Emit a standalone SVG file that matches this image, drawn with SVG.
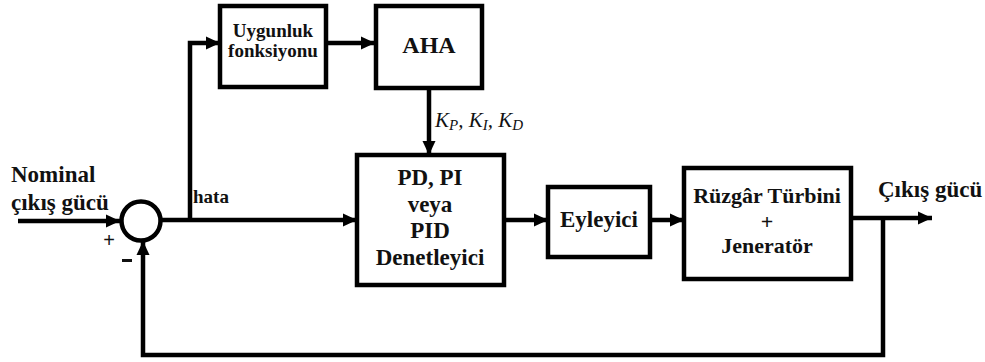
<svg xmlns="http://www.w3.org/2000/svg" width="985" height="362" viewBox="0 0 985 362">
<style>
.box{fill:#fff;stroke:#000;stroke-width:4.5}
.ln{fill:none;stroke:#000;stroke-width:4.5}
.t{font-family:'Liberation Serif','Times New Roman',Times,'DejaVu Serif',serif;font-weight:bold;fill:#111;text-anchor:middle}
.s{text-anchor:start}
.k{font-family:'Liberation Serif','Times New Roman',Times,'DejaVu Serif',serif;font-style:italic;fill:#111}
</style>
<defs>
<marker id="ah" markerUnits="userSpaceOnUse" markerWidth="16" markerHeight="16" viewBox="0 0 16 16" refX="14" refY="8" orient="auto">
<path d="M0,1.5 L14,8 L0,14.5 Z" fill="#000"/>
</marker>
</defs>
<g id="connectors">
<line class="ln" x1="18" y1="221" x2="120" y2="221" marker-end="url(#ah)"/>
<line class="ln" x1="160" y1="220" x2="357" y2="220" marker-end="url(#ah)"/>
<polyline class="ln" points="190,220 190,43 220,43" marker-end="url(#ah)"/>
<line class="ln" x1="326" y1="43" x2="375" y2="43" marker-end="url(#ah)"/>
<line class="ln" x1="429" y1="88" x2="429" y2="155" marker-end="url(#ah)"/>
<line class="ln" x1="504" y1="220" x2="548" y2="220" marker-end="url(#ah)"/>
<line class="ln" x1="650" y1="220" x2="684" y2="220" marker-end="url(#ah)"/>
<line class="ln" x1="851" y1="218" x2="932" y2="218" marker-end="url(#ah)"/>
<polyline class="ln" points="883,218 883,355 143,355 143,241" marker-end="url(#ah)"/>
</g>
<g id="sum">
<circle cx="141" cy="221" r="19.5" fill="#fff" stroke="#000" stroke-width="4.5"/>
<text x="109" y="247" font-family="Liberation Sans, Arial, sans-serif" font-size="20" fill="#111" text-anchor="middle">+</text>
<rect x="122" y="259" width="10" height="3" fill="#111"/>
</g>
<g id="uygunluk">
<rect class="box" x="220" y="6" width="106" height="81"/>
<text class="t" x="273" y="37" font-size="19">Uygunluk</text>
<text class="t" x="273" y="57" font-size="19">fonksiyonu</text>
</g>
<g id="aha">
<rect class="box" x="376" y="6" width="106" height="82"/>
<text class="t" x="429" y="53" font-size="24">AHA</text>
</g>
<g id="pid">
<rect class="box" x="357" y="155" width="147" height="130"/>
<text class="t" x="430" y="185" font-size="23">PD, PI</text>
<text class="t" x="430" y="212" font-size="23">veya</text>
<text class="t" x="430" y="238" font-size="23">PID</text>
<text class="t" x="430" y="265" font-size="23">Denetleyici</text>
</g>
<g id="eyleyici">
<rect class="box" x="548" y="187" width="102" height="70"/>
<text class="t" x="599" y="227" font-size="23">Eyleyici</text>
</g>
<g id="turbine">
<rect class="box" x="684" y="168" width="167" height="111"/>
<text class="t" x="767" y="203" font-size="22">Rüzgâr Türbini</text>
<text class="t" x="767" y="229" font-size="22">+</text>
<text class="t" x="767" y="253" font-size="22">Jeneratör</text>
</g>
<g id="labels">
<text class="t s" x="11" y="182" font-size="23">Nominal</text>
<text class="t s" x="11" y="210" font-size="23">çıkış gücü</text>
<text class="t s" x="193" y="203" font-size="19">hata</text>
<text class="t s" x="878" y="197" font-size="23">Çıkış gücü</text>
<text class="k" x="435" y="127" font-size="21">K<tspan font-size="15" dy="3">P</tspan><tspan dy="-3">, K</tspan><tspan font-size="15" dy="3">I</tspan><tspan dy="-3">, K</tspan><tspan font-size="15" dy="3">D</tspan></text>
</g>
</svg>
